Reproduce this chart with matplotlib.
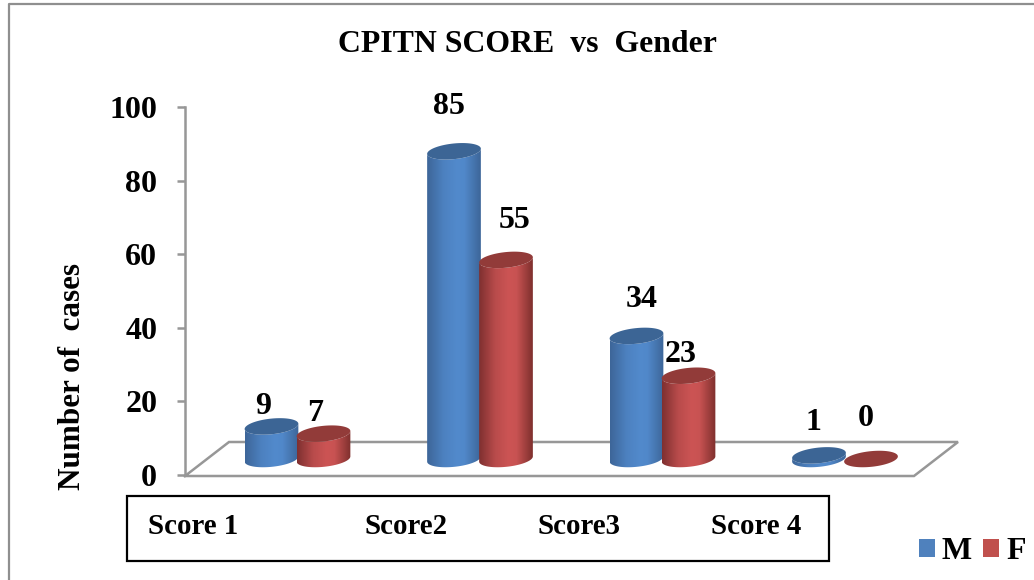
import numpy as np
import matplotlib
matplotlib.use("Agg")
import matplotlib.pyplot as plt
from matplotlib.patches import Rectangle, Patch, PathPatch
from matplotlib.path import Path

categories = ["Score 1", "Score2", "Score3", "Score 4"]
male = [9, 85, 34, 1]
female = [7, 55, 23, 0]
title = "CPITN SCORE  vs  Gender"
ylabel = "Number of  cases"
yticks = [0, 20, 40, 60, 80, 100]

# label offsets in pixels from the top of each bar
m_off = [(-8, 20), (-5, 45), (5, 36), (-6, 33)]
f_off = [(-8, 20), (9, 39), (-8, 21), (-5, 40)]
cat_label_px = [193, 406, 579, 756]

W, H = 1034, 580
plt.rcParams["font.family"] = ["Liberation Serif", "DejaVu Serif"]
plt.rcParams["font.weight"] = "bold"
fig = plt.figure(figsize=(W / 100, H / 100), dpi=100, facecolor="white")

GREY = "#979797"
def fx(p): return p / W
def fy(p): return 1 - p / H

# outer frame
fig.add_artist(plt.Line2D([fx(9), fx(9), fx(W)], [fy(H), fy(4), fy(4)], color="#8f8f8f", lw=1.6))

# plot axes: y 0-100 spans px 475..107, x spans px 185..960
x_left, x_right, y_top, y_bot = 185, 960, 107, 475
ax = fig.add_axes([fx(x_left), fy(y_bot), fx(x_right - x_left), (y_bot - y_top) / H])
XS = 182.5   # px per category
YS = (y_bot - y_top) / 100
cx0 = 297.5
ax.set_xlim((x_left - cx0) / XS, (x_right - cx0) / XS)
ax.set_ylim(0, 100)
ax.patch.set_alpha(0)
for s in ("top", "right", "bottom"):
    ax.spines[s].set_visible(False)
ax.spines["left"].set_color(GREY)
ax.spines["left"].set_linewidth(1.8)
ax.set_xticks([])
ax.set_yticks(yticks)
ax.tick_params(axis="y", length=6, width=1.8, color=GREY, pad=14, labelsize=23)
for t in ax.get_yticklabels():
    t.set_fontweight("bold")

# floor
def px2d(x, y): return (x - cx0) / XS, (y_bot - y) / YS
floor = [px2d(*p) for p in [(185, 476), (229, 442), (958, 442), (914, 476), (185, 476)]]
ax.plot(*zip(*floor), color=GREY, lw=1.8, clip_on=False, zorder=1, solid_joinstyle="miter")

# cylinders
A, B, TILT = 27.0, 7.8, np.deg2rad(6.0)
BASE = (y_bot - 459) / YS
VSCALE = 3.62 / YS
OFF = 26 / XS
def ell(cx, cy, t):
    """ellipse points around centre (data units), tilt applied in pixel space"""
    xp = A * np.cos(t) * np.cos(TILT) - B * np.sin(t) * np.sin(TILT)
    yp = A * np.cos(t) * np.sin(TILT) + B * np.sin(t) * np.cos(TILT)
    return cx + xp / XS, cy + yp / YS

def grad(edge_l, mid, edge_r):
    stops = [0, 0.3, 0.55, 0.7, 1]
    cols = [edge_l, mid * 0.75 + edge_l * 0.25, mid, mid * 0.95 + edge_r * 0.05, edge_r]
    u = np.linspace(0, 1, 64)
    return np.stack([np.interp(u, stops, [c[k] for c in cols]) for k in range(3)], axis=-1)[None, :, :]

BLUE = grad(np.array([.24, .40, .60]), np.array([.32, .54, .80]), np.array([.24, .40, .60]))
RED = grad(np.array([.50, .19, .19]), np.array([.80, .33, .33]), np.array([.50, .19, .18]))
BLUE_TOP, RED_TOP = "#3c6595", "#923b39"

def cylinder(cx, value, img, top_col, z):
    top = BASE + value * VSCALE
    t = np.linspace(0, 2 * np.pi, 120)
    if value > 0:
        tb = np.linspace(np.pi, 2 * np.pi, 50)
        bx, by = ell(cx, BASE, tb)
        tt = np.linspace(2 * np.pi, np.pi, 50)
        ux, uy = ell(cx, top, tt)
        verts = np.column_stack([np.r_[bx, ux, bx[0]], np.r_[by, uy, by[0]]])
        body = PathPatch(Path(verts, closed=True), fc="none", ec="none", zorder=z, transform=ax.transData)
        ax.add_patch(body)
        im = ax.imshow(img, extent=[cx - A / XS, cx + A / XS, 0, 100], aspect="auto",
                       interpolation="bilinear", zorder=z)
        im.set_clip_path(body)
    ex, ey = ell(cx, top, t)
    ax.fill(ex, ey, color=top_col, lw=0, zorder=z + 0.1)
    return top

for i, (m, f) in enumerate(zip(male, female)):
    for val, off, img, col, sign, z in ((m, m_off[i], BLUE, BLUE_TOP, -1, 3), (f, f_off[i], RED, RED_TOP, 1, 4)):
        cx = i + sign * OFF
        top = cylinder(cx, val, img, col, z)
        ax.annotate(str(val), (cx, top), xytext=(off[0] * 0.72, off[1] * 0.72), textcoords="offset points",
                    ha="center", va="center", fontsize=23, fontweight="bold", zorder=6, annotation_clip=False)

ax.set_xlim((x_left - cx0) / XS, (x_right - cx0) / XS)
ax.set_ylim(0, 100)

# title, y label
fig.text(fx(527), fy(44), title, ha="center", va="center", fontsize=22.9, fontweight="bold")
fig.text(fx(73), fy(376), ylabel, rotation=90, ha="center", va="center", fontsize=22.4, fontweight="bold")

# category box
fig.add_artist(Rectangle((fx(127), fy(561)), fx(702), 65 / H, fc="none", ec="black", lw=1.6, transform=fig.transFigure))
for lab, p in zip(categories, cat_label_px):
    fig.text(fx(p), fy(526), lab, ha="center", va="center", fontsize=20.8, fontweight="bold")

# legend
handles = [Patch(fc="#4f81bd", ec="none", label="M"), Patch(fc="#c0504d", ec="none", label="F")]
fig.legend(handles=handles, ncol=2, loc="lower right", bbox_to_anchor=(fx(1025.5), fy(566)), frameon=False,
           prop={"family": "Liberation Serif", "weight": "bold", "size": 23},
           handlelength=0.5, handleheight=0.5, handletextpad=0.22, columnspacing=0.35,
           borderpad=0, borderaxespad=0)

fig.savefig("out.png", dpi=100)
